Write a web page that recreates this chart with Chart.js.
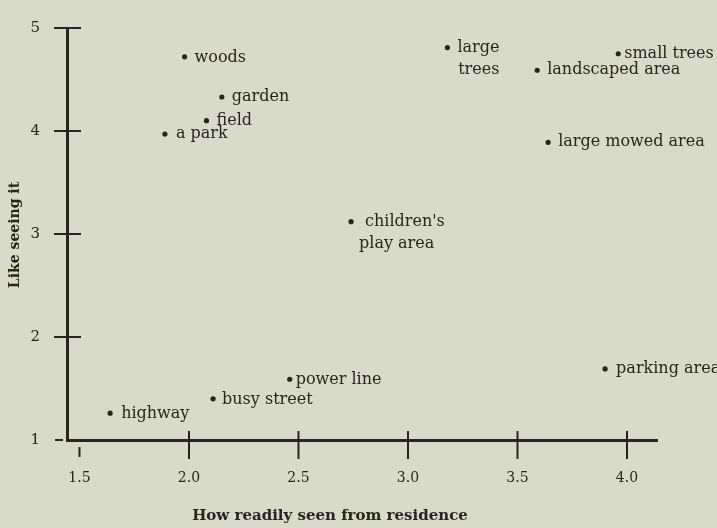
<!DOCTYPE html>
<html>
<head>
<meta charset="utf-8">
<script src="https://cdn.jsdelivr.net/npm/chart.js@4.4.1/dist/chart.umd.min.js"></script>
<style>
  html, body { margin: 0; padding: 0; background: #d8dbc9; }
  #wrap { width: 717px; height: 528px; }
</style>
</head>
<body>
<div id="wrap"><canvas id="chart"></canvas></div>
<script>
// Data
const places = ['woods', 'garden', 'field', 'a park', "children's\nplay area", 'large\ntrees',
    'small trees', 'landscaped area', 'large mowed area', 'power line', 'busy street', 'highway', 'parking area'];
const seenFromResidence = [1.98, 2.15, 2.08, 1.89, 2.74, 3.18, 3.96, 3.59, 3.64, 2.46, 2.11, 1.64, 3.90];
const likeSeeing = [4.72, 4.33, 4.10, 3.97, 3.12, 4.81, 4.75, 4.59, 3.89, 1.59, 1.40, 1.26, 1.69];
const xTicks = [1.5, 2.0, 2.5, 3.0, 3.5, 4.0];
const yTicks = [1, 2, 3, 4, 5];

// label placement next to each dot (dx, dy, align)
const labelPos = [
    [10, 1, 'left'], [10, 0, 'left'], [10, 0, 'left'], [11, 0, 'left'], [14, 0, 'left'],
    [52, 0, 'right'], [6, 0, 'left'], [10, 0, 'left'], [10, 0, 'left'], [6, 1, 'left'],
    [9, 1, 'left'], [11, 1, 'left'], [11, 0, 'left']
];

const ink = '#2a2420';
const serif = "'DejaVu Serif', 'Liberation Serif', serif";

const points = places.map((p, i) => ({ x: seenFromResidence[i], y: likeSeeing[i] }));

const decorations = {
    id: 'decorations',
    afterDraw(chart) {
        const ctx = chart.ctx;
        const xs = chart.scales.x, ys = chart.scales.y;
        const ax = chart.chartArea.left, ay = chart.chartArea.bottom;
        ctx.save();
        ctx.strokeStyle = ink;
        ctx.lineWidth = 2;
        // y tick marks crossing the axis
        yTicks.forEach(v => {
            const py = ys.getPixelForValue(v);
            ctx.beginPath();
            if (v === 1) { ctx.moveTo(ax - 12, py); ctx.lineTo(ax - 4, py); }
            else { ctx.moveTo(ax - 13, py); ctx.lineTo(ax + 14, py); }
            ctx.stroke();
        });
        // x tick marks
        xTicks.forEach(v => {
            const px = xs.getPixelForValue(v);
            ctx.beginPath();
            if (v === 1.5) { ctx.moveTo(px, ay + 7); ctx.lineTo(px, ay + 17); }
            else { ctx.moveTo(px, ay - 9); ctx.lineTo(px, ay + 19); }
            ctx.stroke();
        });
        // point labels
        ctx.fillStyle = ink;
        ctx.font = '16px ' + serif;
        ctx.textBaseline = 'middle';
        points.forEach((pt, i) => {
            const px = xs.getPixelForValue(pt.x), py = ys.getPixelForValue(pt.y);
            const [dx, dy, align] = labelPos[i];
            ctx.textAlign = align;
            places[i].split('\n').forEach((line, j) => {
                ctx.fillText(line, px + dx + (align === 'left' && j > 0 ? -6 : 0), py + dy + j * 22);
            });
        });
        // axis titles
        ctx.font = 'bold 15px ' + serif;
        ctx.textAlign = 'center';
        ctx.fillText('How readily seen from residence', 330, 516);
        ctx.font = 'bold 14px ' + serif;
        ctx.translate(15, 235);
        ctx.rotate(-Math.PI / 2);
        ctx.fillText('Like seeing it', 0, 0);
        ctx.restore();
    }
};

new Chart(document.getElementById('chart'), {
    type: 'scatter',
    data: {
        datasets: [{
            data: points,
            pointRadius: 2.6,
            pointHoverRadius: 2.6,
            pointBackgroundColor: ink,
            pointBorderWidth: 0
        }]
    },
    options: {
        responsive: true,
        maintainAspectRatio: false,
        animation: false,
        events: [],
        layout: { padding: { left: 0, top: 12, right: 60, bottom: 0 } },
        plugins: { legend: { display: false }, tooltip: { enabled: false } },
        scales: {
            x: {
                type: 'linear',
                min: 1.443,
                max: 4.137,
                afterBuildTicks: s => { s.ticks = xTicks.map(v => ({ value: v })); },
                afterFit: s => { s.height = 88; },
                grid: { display: false },
                border: { display: true, color: ink, width: 3 },
                ticks: {
                    color: ink,
                    padding: 22,
                    font: { family: serif, size: 14 },
                    callback: v => v.toFixed(1)
                }
            },
            y: {
                type: 'linear',
                min: 1,
                max: 5,
                afterBuildTicks: s => { s.ticks = yTicks.map(v => ({ value: v })); },
                afterFit: s => { s.width = 67; },
                grid: { display: false },
                border: { display: true, color: ink, width: 3 },
                ticks: {
                    color: ink,
                    padding: 19,
                    font: { family: serif, size: 15 },
                    callback: v => String(v)
                }
            }
        }
    },
    plugins: [decorations]
});
</script>
</body>
</html>
